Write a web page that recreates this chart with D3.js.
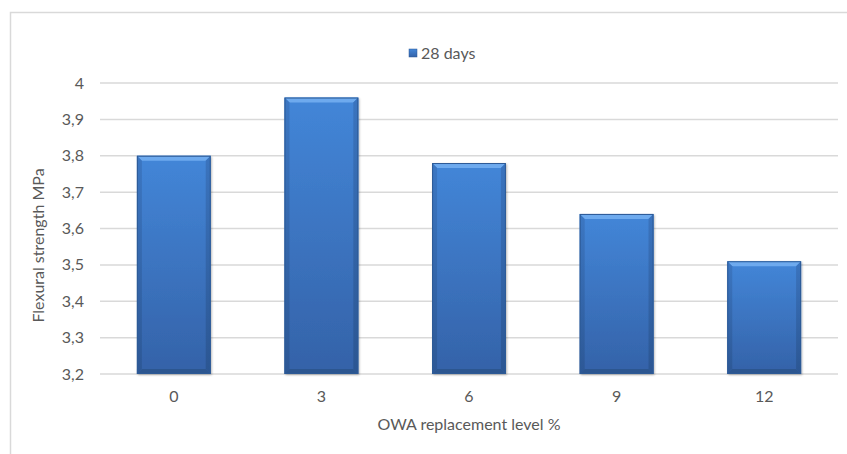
<!DOCTYPE html>
<html>
<head>
<meta charset="utf-8">
<script src="https://cdn.jsdelivr.net/npm/d3@7"></script>
<style>
  html, body { margin: 0; padding: 0; background: #fff; }
  svg { display: block; font-family: Lato, "Open Sans", sans-serif; }
</style>
</head>
<body>
<svg id="chart" width="847" height="454"></svg>
<script>
// Flexural strength at 28 days by OWA replacement level
const categories = ["0", "3", "6", "9", "12"];
const strength28 = [3.80, 3.96, 3.78, 3.64, 3.51];
const yTicks = [3.2, 3.3, 3.4, 3.5, 3.6, 3.7, 3.8, 3.9, 4.0];
const seriesName = "28 days";

const svg = d3.select("#chart");
const W = 847, H = 454;
const plot = { left: 100, right: 838, top: 83, bottom: 374 };
const textColor = "#595959";
const fs = 16;

// outer chart frame (runs past the bottom/right edge)
svg.append("rect")
  .attr("x", 10.5).attr("y", 12.5)
  .attr("width", W + 20).attr("height", H + 20)
  .attr("fill", "#fff").attr("stroke", "#d9d9d9").attr("stroke-width", 1.5);

const x = d3.scaleBand().domain(categories).range([plot.left, plot.right]).paddingInner(0.5).paddingOuter(0.25);
const y = d3.scaleLinear().domain([3.2, 4.0]).range([plot.bottom, plot.top]);
const fmt = v => d3.format(".1f")(v).replace(".", ",").replace(",0", "");

// gradients
const defs = svg.append("defs");
const g1 = defs.append("linearGradient").attr("id", "barFill").attr("x1", 0).attr("y1", 0).attr("x2", 0).attr("y2", 1);
g1.append("stop").attr("offset", "0%").attr("stop-color", "#4386d8");
g1.append("stop").attr("offset", "100%").attr("stop-color", "#3462a8");
const gs = defs.append("linearGradient").attr("id", "sideFill").attr("x1", 0).attr("y1", 0).attr("x2", 0).attr("y2", 1);
gs.append("stop").attr("offset", "0%").attr("stop-color", "#3a73bd");
gs.append("stop").attr("offset", "100%").attr("stop-color", "#2b5591");
defs.append("filter").attr("id", "shadow").attr("x", "-10%").attr("y", "-10%").attr("width", "130%").attr("height", "120%")
  .append("feDropShadow").attr("dx", 1).attr("dy", 1).attr("stdDeviation", 1.2).attr("flood-color", "#000").attr("flood-opacity", 0.3);

// gridlines
svg.append("g").selectAll("line").data(yTicks).join("line")
  .attr("x1", plot.left).attr("x2", plot.right)
  .attr("y1", d => y(d)).attr("y2", d => y(d))
  .attr("stroke", "#d9d9d9").attr("stroke-width", 1.5);

// y tick labels
svg.append("g").selectAll("text").data(yTicks).join("text")
  .attr("x", 84).attr("y", d => y(d)).attr("dy", "0.35em")
  .attr("text-anchor", "end").attr("font-size", fs).attr("fill", textColor)
  .text(fmt);

// x tick labels
svg.append("g").selectAll("text").data(categories).join("text")
  .attr("x", d => x(d) + x.bandwidth() / 2).attr("y", 402)
  .attr("text-anchor", "middle").attr("font-size", fs).attr("fill", textColor)
  .text(d => d);

// bars with bevelled edges
const bev = 5;
const bars = svg.append("g").selectAll("g").data(categories.map((c, i) => ({ c, v: strength28[i] }))).join("g");
bars.each(function(d) {
  const g = d3.select(this);
  const x0 = x(d.c), w = x.bandwidth(), y0 = y(d.v), h = y(3.2) - y0;
  g.append("rect").attr("x", x0).attr("y", y0).attr("width", w).attr("height", h)
    .attr("fill", "url(#barFill)").attr("filter", "url(#shadow)");
  // top bevel highlight
  g.append("polygon")
    .attr("points", [[x0, y0], [x0 + w, y0], [x0 + w - bev, y0 + bev], [x0 + bev, y0 + bev]].join(" "))
    .attr("fill", "#6eaaee");
  // side bevels
  g.append("polygon")
    .attr("points", [[x0, y0], [x0 + bev, y0 + bev], [x0 + bev, y0 + h - bev], [x0, y0 + h]].join(" "))
    .attr("fill", "url(#sideFill)").attr("opacity", 0.8);
  g.append("polygon")
    .attr("points", [[x0 + w, y0], [x0 + w - bev, y0 + bev], [x0 + w - bev, y0 + h - bev], [x0 + w, y0 + h]].join(" "))
    .attr("fill", "url(#sideFill)").attr("opacity", 0.95);
  // bottom bevel
  g.append("polygon")
    .attr("points", [[x0, y0 + h], [x0 + bev, y0 + h - bev], [x0 + w - bev, y0 + h - bev], [x0 + w, y0 + h]].join(" "))
    .attr("fill", "#2c5690");
  g.append("rect").attr("x", x0 + 0.5).attr("y", y0 + 0.5).attr("width", w - 1).attr("height", h - 1)
    .attr("fill", "none").attr("stroke", "#2d5a96").attr("stroke-width", 1);
});

// axis titles
svg.append("text").attr("x", (plot.left + plot.right) / 2).attr("y", 430)
  .attr("text-anchor", "middle").attr("font-size", fs).attr("fill", textColor)
  .text("OWA replacement level %");
svg.append("text").attr("transform", `translate(44,${(plot.top + plot.bottom) / 2 + 17}) rotate(-90)`)
  .attr("text-anchor", "middle").attr("font-size", fs).attr("fill", textColor)
  .text("Flexural strength MPa");

// legend
const lg = svg.append("g").attr("transform", "translate(409,49)");
lg.append("rect").attr("width", 8).attr("height", 8).attr("fill", "url(#barFill)").attr("stroke", "#2d5a96").attr("stroke-width", 0.5);
lg.append("text").attr("x", 12).attr("y", 4).attr("dy", "0.35em").attr("font-size", fs).attr("fill", textColor).text(seriesName);
</script>
</body>
</html>
